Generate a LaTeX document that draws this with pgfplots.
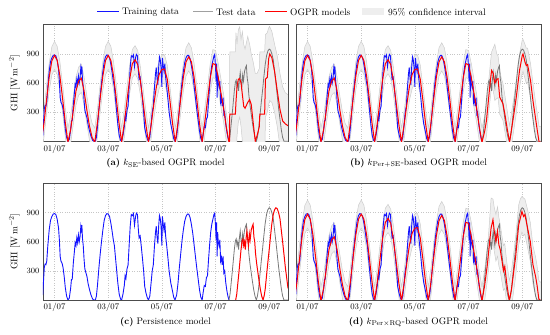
\documentclass[border=0pt]{standalone}
\usepackage{pgfplots}
\pgfplotsset{compat=1.18}
\usepackage{pgfplotstable}
\usepgfplotslibrary{fillbetween}

\definecolor{trainblue}{RGB}{20,20,255}
\definecolor{modred}{RGB}{255,0,0}
\definecolor{testgray}{RGB}{120,120,120}
\definecolor{cifill}{RGB}{238,238,238}
\definecolor{ciline}{RGB}{205,205,205}

% training region model (shared by a, b, d): x, mean, lower, upper
\pgfplotstableread{
x m lo hi
-0.5 -9 -154 136
-0.4 170 25 315
-0.3 420 275 565
-0.2 660 515 805
-0.1 830 685 975
0.0 885 740 1030
0.1 832 687 977
0.2 673 528 818
0.3 442 297 587
0.4 195 50 340
0.5 -9 -154 136
0.6 120 -25 265
0.7 320 175 465
0.8 520 375 665
0.9 620 475 765
1.0 650 505 795
1.1 520 375 665
1.2 330 185 475
1.3 160 15 305
1.4 40 -105 185
1.5 -9 -154 136
1.6 195 50 340
1.7 442 297 587
1.8 673 528 818
1.9 832 687 977
2.0 885 740 1030
2.1 832 687 977
2.2 673 528 818
2.3 442 297 587
2.4 195 50 340
2.5 -9 -154 136
2.6 185 40 330
2.7 420 275 565
2.8 640 495 785
2.9 800 655 945
3.0 840 695 985
3.1 790 645 935
3.2 620 475 765
3.3 400 255 545
3.4 180 35 325
3.5 -9 -154 136
3.6 170 25 315
3.7 380 235 525
3.8 570 425 715
3.9 690 545 835
4.0 740 595 885
4.1 745 600 890
4.2 640 495 785
4.3 420 275 565
4.4 180 35 325
4.5 -9 -154 136
4.6 190 45 335
4.7 435 290 580
4.8 660 515 805
4.9 818 673 963
5.0 870 725 1015
5.1 818 673 963
5.2 660 515 805
5.3 435 290 580
5.4 190 45 335
5.5 -9 -154 136
5.6 200 55 345
5.7 420 275 565
5.8 650 505 795
5.9 800 655 945
6.0 790 645 935
6.1 660 515 805
6.2 500 355 645
6.3 340 195 485
6.4 150 5 295
6.5 -9 -154 136
}\trainmod

% test region, panel (a)
\pgfplotstableread{
x m lo hi
6.5 -9 -154 136
6.52 0 -300 300
6.53 280 -300 920
6.74 280 -300 920
6.76 400 -200 1120
6.8 560 50 1000
6.85 640 200 1150
6.9 645 250 1180
6.95 600 150 1050
7.0 480 0 1130
7.05 360 -100 1000
7.1 340 -150 950
7.2 400 -100 1080
7.27 430 -50 1000
7.33 380 -100 900
7.4 200 -250 820
7.48 0 -300 700
7.55 60 -300 700
7.63 150 -300 750
7.65 280 -300 920
7.83 280 -300 920
7.86 640 250 1100
7.93 660 300 1120
7.98 850 380 1170
8.02 900 420 1180
8.1 860 400 1130
8.2 720 300 1000
8.3 520 150 880
8.4 330 -50 700
8.5 210 -200 560
8.6 180 -250 500
8.7 160 -300 480
}\testA

% test region, panel (b)
\pgfplotstableread{
x m lo hi
6.5 -9 -154 136
6.6 100 -60 260
6.67 218 60 380
6.75 450 290 620
6.82 640 470 820
6.86 730 560 920
6.92 700 520 960
6.98 600 420 1000
7.05 640 440 900
7.1 645 450 880
7.16 456 280 740
7.22 422 250 650
7.28 390 220 600
7.35 286 110 480
7.45 115 -60 300
7.53 -9 -180 160
7.6 120 -40 290
7.7 300 140 470
7.78 456 290 630
7.9 730 560 900
8.0 880 700 1040
8.03 900 720 1050
8.1 820 650 1000
8.15 780 600 960
8.2 790 610 960
8.31 627 450 800
8.4 420 250 600
8.5 230 60 400
8.56 115 -50 290
8.63 -9 -170 150
8.7 -9 -170 150
}\testB

% test region, panel (d)
\pgfplotstableread{
x m lo hi
6.5 -9 -154 136
6.6 150 -10 310
6.7 360 200 540
6.75 500 330 690
6.84 741 550 1050
6.91 826 600 1040
6.96 707 500 950
7.02 604 400 880
7.08 707 450 960
7.13 569 350 850
7.18 520 300 780
7.25 398 180 650
7.3 300 100 560
7.35 346 120 580
7.43 158 -50 380
7.52 -9 -200 200
7.6 110 -80 300
7.7 330 130 520
7.75 432 230 640
7.87 775 570 980
7.93 844 640 1040
7.99 912 700 1067
8.05 860 660 1050
8.1 880 680 1040
8.2 741 540 930
8.3 604 400 800
8.4 364 170 560
8.5 240 40 440
8.55 158 -40 360
8.62 10 -180 200
8.7 -9 -200 180
}\testD

% training data
\pgfplotstableread{
x y
-0.44 50
-0.41 200
-0.38 340
-0.35 370
-0.32 365
-0.29 400
-0.25 560
-0.2 720
-0.15 820
-0.1 860
-0.05 885
0 890
0.05 880
0.1 830
0.15 740
0.18 620
0.21 450
0.24 400
0.28 380
0.32 330
0.36 240
0.4 130
0.45 40
0.5 0
0.55 20
0.6 120
0.63 210
0.66 215
0.7 380
0.74 500
0.77 590
0.8 560
0.83 640
0.86 590
0.89 670
0.92 600
0.95 650
0.98 760
1.0 720
1.02 770
1.04 640
1.07 560
1.1 420
1.13 320
1.17 280
1.21 240
1.25 170
1.3 110
1.36 50
1.42 10
1.47 0
1.52 0
1.56 40
1.6 150
1.65 320
1.7 470
1.75 600
1.8 720
1.85 820
1.9 870
1.95 890
2.0 885
2.05 860
2.1 790
2.15 700
2.19 620
2.23 560
2.27 440
2.31 320
2.36 170
2.41 60
2.46 10
2.5 0
2.55 60
2.6 150
2.63 250
2.66 220
2.7 320
2.74 360
2.78 560
2.82 760
2.86 880
2.9 870
2.94 890
2.98 770
3.02 860
3.05 895
3.09 880
3.12 740
3.15 640
3.19 660
3.23 560
3.28 420
3.32 300
3.36 140
3.41 70
3.46 20
3.5 0
3.55 40
3.6 180
3.64 300
3.68 360
3.72 540
3.76 690
3.79 760
3.82 650
3.85 580
3.88 760
3.91 870
3.94 840
3.97 760
4.0 560
4.02 860
4.05 780
4.08 720
4.11 800
4.14 660
4.18 560
4.22 450
4.27 300
4.33 180
4.39 100
4.44 30
4.49 0
4.55 50
4.6 170
4.65 330
4.7 470
4.75 610
4.8 720
4.85 810
4.9 860
4.95 885
5.0 885
5.05 850
5.1 780
5.15 690
5.2 570
5.25 450
5.3 330
5.35 220
5.4 110
5.45 30
5.5 0
5.54 80
5.58 150
5.62 140
5.66 230
5.7 250
5.74 420
5.78 570
5.82 700
5.86 780
5.9 830
5.94 880
5.97 895
6.0 760
6.02 620
6.04 800
6.06 450
6.08 700
6.1 600
6.13 560
6.16 620
6.19 400
6.22 440
6.25 360
6.28 450
6.31 280
6.34 300
6.38 180
6.42 100
6.46 40
6.5 0
}\traindata

% test data
\pgfplotstableread{
x y
6.5 0
6.54 60
6.58 170
6.62 280
6.66 400
6.7 520
6.74 610
6.77 630
6.8 560
6.83 600
6.86 520
6.89 640
6.92 710
6.95 620
6.98 560
7.01 680
7.04 620
7.08 720
7.12 760
7.15 780
7.18 650
7.21 600
7.24 480
7.28 380
7.32 300
7.37 200
7.42 110
7.47 40
7.52 0
7.56 40
7.6 110
7.65 250
7.7 390
7.75 520
7.8 660
7.85 790
7.9 880
7.95 930
8.0 950
8.05 940
8.1 900
8.15 840
8.2 720
8.25 600
8.3 470
8.35 340
8.4 230
8.45 120
8.5 40
8.55 0
8.7 0
}\testdata

% persistence forecast
\pgfplotstableread{
x y
6.75 0
6.79 60
6.83 170
6.87 280
6.91 400
6.95 520
6.99 610
7.02 630
7.05 560
7.08 600
7.11 520
7.14 640
7.17 710
7.2 620
7.23 560
7.26 680
7.29 620
7.33 720
7.37 760
7.4 780
7.43 650
7.46 600
7.49 480
7.53 380
7.57 300
7.62 200
7.67 110
7.72 40
7.77 0
7.81 40
7.85 110
7.9 250
7.95 390
8.0 520
8.05 660
8.1 790
8.15 880
8.2 930
8.25 950
8.3 940
8.35 900
8.4 840
8.45 720
8.5 600
8.55 470
8.6 340
8.65 230
8.7 120
}\persdata

\pgfplotsset{
  base/.style={
    scale only axis, width=245pt, height=116.5pt, anchor=south west,
    xmin=-0.43, xmax=8.7, ymin=0, ymax=1200,
    xtick={0,2,4,6,8}, xticklabels={01/07,03/07,05/07,07/07,09/07},
    ytick={300,600,900},
    grid=major, major grid style={dotted, gray!45, line width=0.5pt},
    major tick length=0pt,
    axis line style={black!70, line width=0.7pt},
    tick label style={font=\fontsize{8.5}{10}\selectfont},
    label style={font=\fontsize{9.5}{11}\selectfont},
  },
  trainst/.style={color=trainblue, line width=0.9pt, no marks},
  testst/.style={color=testgray, line width=0.8pt, no marks},
  modst/.style={color=modred, line width=1.0pt, no marks},
  cist/.style={color=ciline, line width=0.5pt, no marks},
}

\newcommand{\band}[2]{%
  \addplot[draw=none, name path=up#2, forget plot] table[x=x,y=hi]{#1};
  \addplot[draw=none, name path=dn#2, forget plot] table[x=x,y=lo]{#1};
  \addplot[fill=cifill, draw=none, forget plot] fill between[of=up#2 and dn#2];
  \addplot[cist, forget plot] table[x=x,y=hi]{#1};
  \addplot[cist, forget plot] table[x=x,y=lo]{#1};
}

\begin{document}
\begin{tikzpicture}
\path (0,0) rectangle (550pt,335pt);

% (a)
\begin{axis}[base, at={(43pt,193.7pt)}, ylabel={GHI [W\,m$^{-2}$]}]
  \band{\trainmod}{t}
  \band{\testA}{s}
  \addplot[trainst] table[x=x,y=y]{\traindata};
  \addplot[testst] table[x=x,y=y]{\testdata};
  \addplot[modst] table[x=x,y=m]{\trainmod};
  \addplot[modst] table[x=x,y=m]{\testA};
\end{axis}

% (b)
\begin{axis}[base, at={(296pt,193.7pt)}, yticklabels={}]
  \band{\trainmod}{t}
  \band{\testB}{s}
  \addplot[trainst] table[x=x,y=y]{\traindata};
  \addplot[testst] table[x=x,y=y]{\testdata};
  \addplot[modst] table[x=x,y=m]{\trainmod};
  \addplot[modst] table[x=x,y=m]{\testB};
\end{axis}

% (c)
\begin{axis}[base, at={(43pt,35pt)}, ylabel={GHI [W\,m$^{-2}$]}]
  \addplot[trainst] table[x=x,y=y]{\traindata};
  \addplot[testst] table[x=x,y=y]{\testdata};
  \addplot[modst] table[x=x,y=y]{\persdata};
\end{axis}

% (d)
\begin{axis}[base, at={(296pt,35pt)}, yticklabels={}]
  \band{\trainmod}{t}
  \band{\testD}{s}
  \addplot[trainst] table[x=x,y=y]{\traindata};
  \addplot[testst] table[x=x,y=y]{\testdata};
  \addplot[modst] table[x=x,y=m]{\trainmod};
  \addplot[modst] table[x=x,y=m]{\testD};
\end{axis}

% legend (top, one row)
\begin{scope}[font=\fontsize{9.5}{11}\selectfont]
\draw[trainblue, line width=1pt] (97pt,323pt) -- (119pt,323pt);
\node[anchor=west, inner sep=0pt] at (122pt,323pt) {Training data};
\draw[testgray!70, line width=1pt] (193pt,323pt) -- (213pt,323pt);
\node[anchor=west, inner sep=0pt] at (216pt,323pt) {Test data};
\draw[modred, line width=1pt] (265pt,323pt) -- (287pt,323pt);
\node[anchor=west, inner sep=0pt] at (290pt,323pt) {OGPR models};
\fill[cifill] (362pt,319.5pt) rectangle (384pt,326.5pt);
\node[anchor=west, inner sep=0pt] at (388pt,323pt) {95\% confidence interval};

\node at (165.5pt,172pt) {\textbf{(a)} $k_{\mathrm{SE}}$-based OGPR model};
\node at (418.5pt,172pt) {\textbf{(b)} $k_{\mathrm{Per+SE}}$-based OGPR model};
\node at (165.5pt,13pt) {\textbf{(c)} Persistence model};
\node at (418.5pt,13pt) {\textbf{(d)} $k_{\mathrm{Per}\times\mathrm{RQ}}$-based OGPR model};
\end{scope}
\end{tikzpicture}
\end{document}
